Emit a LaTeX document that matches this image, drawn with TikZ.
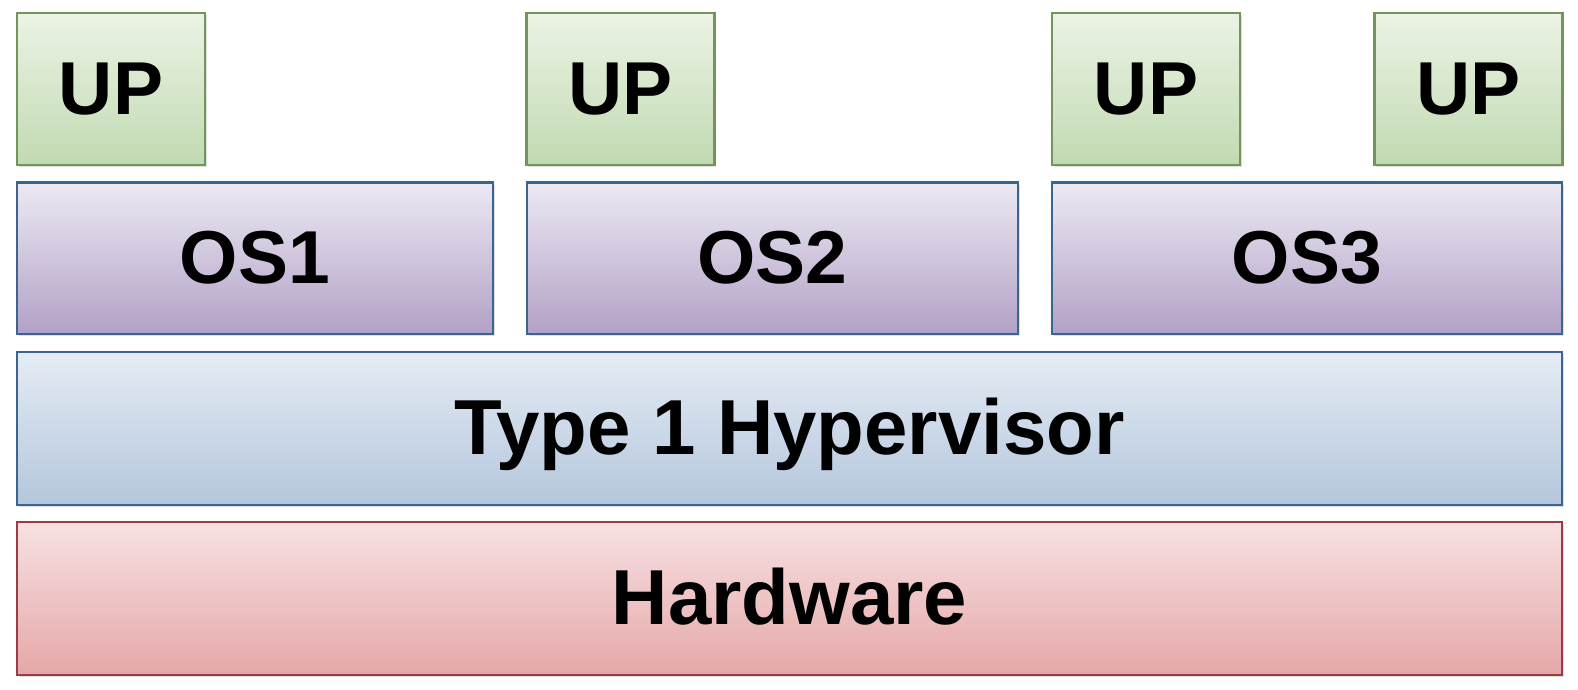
\documentclass[tikz,border=0pt]{standalone}
\usepackage{fontspec}
\setmainfont{Liberation Sans}
\usepackage{tikz}
\usetikzlibrary{shadows}
\definecolor{upline}{RGB}{113,149,90}
\definecolor{uptop}{RGB}{236,243,229}
\definecolor{upbot}{RGB}{193,218,178}
\definecolor{osline}{RGB}{60,100,144}
\definecolor{ostop}{RGB}{236,233,242}
\definecolor{osbot}{RGB}{178,161,199}
\definecolor{hvtop}{RGB}{229,236,245}
\definecolor{hvbot}{RGB}{180,198,220}
\definecolor{hwline}{RGB}{155,60,69}
\definecolor{hwtop}{RGB}{248,225,226}
\definecolor{hwbot}{RGB}{229,167,168}
\tikzstyle{layer} = [rectangle, line width=1.2pt, minimum height=76pt, inner sep=0pt,
                     text height=25.5pt, text depth=0pt,
                     text centered, font=\fontsize{37.5}{40}\selectfont\bfseries,
                     drop shadow={shadow xshift=0.8pt, shadow yshift=-1.2pt, opacity=0.25}]
\tikzstyle{upbox} = [layer, minimum width=94pt, draw=upline, top color=uptop, bottom color=upbot]
\tikzstyle{osbox} = [layer, minimum height=75.75pt, draw=osline, top color=ostop, bottom color=osbot]
\tikzstyle{hvbox} = [layer, minimum width=772.5pt, minimum height=76.5pt, draw=osline,
                     top color=hvtop, bottom color=hvbot,
                     font=\fontsize{39}{42}\selectfont\bfseries]
\tikzstyle{hwbox} = [layer, minimum width=772.5pt, minimum height=76.5pt, draw=hwline,
                     top color=hwtop, bottom color=hwbot,
                     font=\fontsize{39}{42}\selectfont\bfseries]
\begin{document}
\begin{tikzpicture}[x=0.5pt, y=-0.5pt]
                \useasboundingbox (0,0) rectangle (1578,690);
                % User processes
                \node[upbox] (up1) at (111,89) {UP};
                \node[upbox] (up2) at (620.5,89) {UP};
                \node[upbox] (up3) at (1146,89) {UP};
                \node[upbox] (up4) at (1468.5,89) {UP};
                
                % Guest operating systems
                \node[osbox, minimum width=238pt] (os1) at (255,258.25) {OS1};
                \node[osbox, minimum width=245.5pt] (os2) at (772.5,258.25) {OS2};
                \node[osbox, minimum width=255pt] (os3) at (1307,258.25) {OS3};
                
                % Hypervisor and hardware
                \node[hvbox] (hyper) at (789.5,428.5) {Type 1 Hypervisor};
                \node[hwbox] (hw) at (789.5,598.5) {Hardware};
            \end{tikzpicture}
\end{document}
